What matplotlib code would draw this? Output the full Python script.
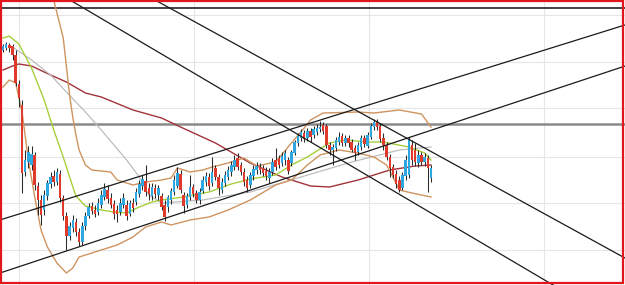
import matplotlib
matplotlib.use('Agg')
import matplotlib.pyplot as plt
import numpy as np
from matplotlib.patches import Rectangle

# candles (price units, one bar per entry), 10 per row
opens = [235, 237, 240, 239, 230, 201, 180, 113, 123, 120,
         130, 99, 85, 75, 89, 101, 109, 103, 111, 87,
         69, 49, 57, 63, 53, 43, 59, 69, 79, 75,
         73, 80, 88, 95, 87, 81, 75, 73, 80, 80,
         71, 82, 83, 91, 99, 104, 97, 89, 97, 90,
         89, 80, 78, 85, 93, 99, 111, 90, 80, 88,
         98, 92, 85, 94, 103, 108, 102, 117, 108, 95,
         102, 108, 113, 118, 127, 120, 113, 105, 100, 109,
         115, 118, 117, 114, 107, 113, 125, 127, 122, 125,
         125, 122, 132, 142, 147, 152, 147, 154, 150, 153,
         156, 160, 159, 140, 135, 137, 143, 149, 142, 147,
         143, 137, 133, 138, 147, 139, 148, 158, 163, 159,
         147, 140, 128, 118, 111, 105, 97, 109, 110, 140,
         135, 122, 130, 123, 127, 107]
closes = [239, 241, 237, 230, 202, 187, 112, 125, 133, 131,
          100, 85, 70, 90, 102, 108, 103, 113, 87, 69,
          49, 59, 65, 53, 43, 59, 69, 78, 74, 71,
          82, 90, 96, 86, 80, 71, 71, 82, 87, 69,
          82, 77, 93, 101, 106, 93, 91, 98, 91, 97,
          78, 68, 88, 94, 105, 112, 95, 79, 89, 98,
          91, 85, 93, 105, 109, 99, 113, 108, 97, 103,
          110, 115, 120, 125, 118, 113, 103, 97, 110, 116,
          119, 115, 112, 109, 113, 123, 118, 120, 129, 132,
          114, 133, 143, 149, 153, 146, 154, 148, 156, 157,
          158, 154, 140, 135, 138, 145, 148, 142, 147, 142,
          135, 132, 140, 147, 141, 150, 159, 163, 158, 146,
          140, 128, 117, 110, 101, 95, 110, 125, 145, 125,
          123, 130, 123, 128, 117, 117]
highs = [241, 243, 242, 241, 235, 205, 185, 135, 139, 139,
         133, 103, 90, 95, 105, 113, 115, 117, 115, 90,
         73, 63, 70, 67, 57, 63, 73, 82, 83, 80,
         87, 95, 102, 100, 92, 85, 80, 87, 92, 85,
         85, 87, 97, 105, 110, 120, 102, 102, 101, 100,
         92, 85, 90, 97, 110, 118, 115, 93, 92, 110,
         101, 95, 97, 109, 113, 112, 128, 120, 111, 107,
         114, 119, 124, 130, 132, 123, 117, 109, 113, 120,
         123, 122, 120, 118, 117, 127, 137, 130, 133, 135,
         128, 135, 145, 152, 156, 155, 157, 157, 159, 161,
         164, 163, 161, 143, 141, 148, 153, 152, 150, 150,
         146, 140, 143, 150, 150, 153, 162, 166, 166, 162,
         152, 143, 131, 121, 115, 109, 113, 130, 148, 145,
         142, 135, 133, 132, 130, 120]
lows = [233, 235, 233, 225, 199, 178, 92, 109, 117, 115,
        95, 70, 60, 70, 85, 97, 99, 100, 83, 65,
        35, 45, 53, 49, 39, 40, 55, 67, 71, 68,
        70, 77, 85, 82, 77, 66, 63, 70, 77, 65,
        69, 73, 80, 88, 95, 89, 85, 85, 87, 85,
        75, 64, 73, 81, 90, 97, 92, 72, 77, 85,
        88, 82, 81, 92, 99, 95, 99, 105, 90, 92,
        99, 105, 109, 115, 115, 110, 99, 93, 97, 105,
        111, 111, 109, 105, 102, 110, 115, 117, 119, 120,
        111, 119, 130, 139, 144, 143, 144, 143, 147, 150,
        153, 151, 137, 130, 120, 134, 140, 139, 139, 138,
        133, 125, 130, 135, 138, 137, 146, 155, 155, 143,
        135, 125, 108, 107, 97, 93, 95, 105, 107, 120,
        119, 118, 120, 119, 93, 103]

# indicator lines, read at selected bars
ma_fast_x = [0, 2, 5, 9, 13, 16, 19, 21, 23, 26, 31, 35, 39, 43, 47, 50, 57, 65, 72, 78, 86,
             91, 96, 103, 108, 115, 120, 128, 133, 135]
ma_fast = [247, 249, 241, 217, 185, 155, 128, 108, 89, 79, 75, 73, 72, 78, 83, 85, 88, 93,
           101, 106, 110, 120, 128, 142, 145, 143, 143, 138, 132, 125]
ma_mid_x = [3, 9, 15, 20, 26, 31, 39, 43, 46, 50, 63, 78, 94, 110, 125, 135]
ma_mid = [238, 225, 210, 193, 173, 155, 125, 108, 90, 82, 85, 93, 108, 123, 135, 138]
ma_slow_x = [0, 3, 5, 9, 15, 20, 26, 31, 41, 50, 56, 67, 78, 88, 97, 103, 112, 122, 130, 135]
ma_slow = [215, 219, 221, 219, 210, 203, 192, 188, 175, 167, 158, 142, 122, 108, 99, 98, 105,
           115, 119, 120]
bb_up_x = [14, 16, 19, 21, 22, 23, 24, 26, 28, 34, 36, 41, 45, 50, 53, 55, 59, 63, 66, 71,
           76, 80, 86, 91, 95, 97, 101, 112, 117, 125, 132, 135]
bb_up = [305, 285, 247, 190, 168, 150, 135, 120, 115, 113, 105, 100, 103, 105, 107, 117,
         113, 115, 118, 122, 127, 119, 123, 142, 157, 165, 172, 173, 172, 175, 171, 158]
bb_lo_x = [0, 2, 4, 6, 8, 10, 12, 14, 17, 20, 22, 24, 31, 36, 41, 45, 50, 53, 59, 65, 71,
           78, 86, 91, 96, 100, 106, 112, 117, 121, 123, 125, 129, 135]
bb_lo = [198, 205, 202, 173, 125, 88, 55, 38, 22, 12, 17, 28, 35, 40, 48, 58, 63, 60, 65,
         68, 75, 85, 100, 105, 120, 130, 135, 132, 128, 120, 108, 95, 92, 88]

# drawn trend lines: two anchors each (bar, price)
trend_lines = [([0, 135], [66, 199.5]),
               ([0, 135], [13, 154.7]),
               ([0, 135], [368.5, 133.5]),
               ([0, 135], [324.5, 72])]
top_level = 277
mid_level = 161
grid_y = [35, 82, 128, 177, 223, 270]
grid_x = [5, 60.2, 115.4, 170.6]

fig = plt.figure(figsize=(6.25, 2.85), dpi=100)
ax = fig.add_axes([0, 0, 1, 1])
ax.set_xlim(-0.95, 196.2)
ax.set_ylim(0, 285)

for g in grid_y:
    ax.axhline(g, color='#e6e6e6', lw=0.8, zorder=0)
for g in grid_x:
    ax.axvline(g, color='#e6e6e6', lw=0.8, zorder=0)

ax.axhline(top_level, color='#222222', lw=1.2, zorder=1)
ax.axhline(mid_level, color='#8a8a8a', lw=1.8, zorder=1)

ax.plot(ma_slow_x, ma_slow, color='#a2333a', lw=1.0, zorder=2)
ax.plot(ma_mid_x, ma_mid, color='#bdbdbd', lw=0.9, zorder=2)
ax.plot(bb_up_x, bb_up, color='#cf9460', lw=1.0, zorder=2)
ax.plot(bb_lo_x, bb_lo, color='#cf9460', lw=1.0, zorder=2)
ax.plot(ma_fast_x, ma_fast, color='#a6cf3c', lw=1.0, zorder=2)

idx = np.arange(len(opens))
o = np.array(opens)
c = np.array(closes)
up = c >= o
ax.vlines(idx, lows, highs, color='#2b2b2b', lw=0.75, zorder=3)
ax.bar(idx, np.abs(c - o) + 0.8, bottom=np.minimum(o, c) - 0.4, width=0.78,
       color=np.where(up, '#2ea6df', '#df3a2c'), zorder=4)

xs = np.array(ax.get_xlim())
for (bx, by) in trend_lines:
    k = (by[1] - by[0]) / (bx[1] - bx[0])
    ax.plot(xs, by[0] + k * (xs - bx[0]), color='#1a1a1a', lw=0.9, zorder=5)

ax.set_xticks([])
ax.set_yticks([])
for s in ax.spines.values():
    s.set_visible(False)

fig.patches.append(Rectangle((0.5 / 625, 2 / 285), 622.5 / 625, 282 / 285,
                             transform=fig.transFigure, fill=False,
                             edgecolor='#e3161e', lw=1.6, zorder=10))

plt.savefig('out.png', dpi=100)
